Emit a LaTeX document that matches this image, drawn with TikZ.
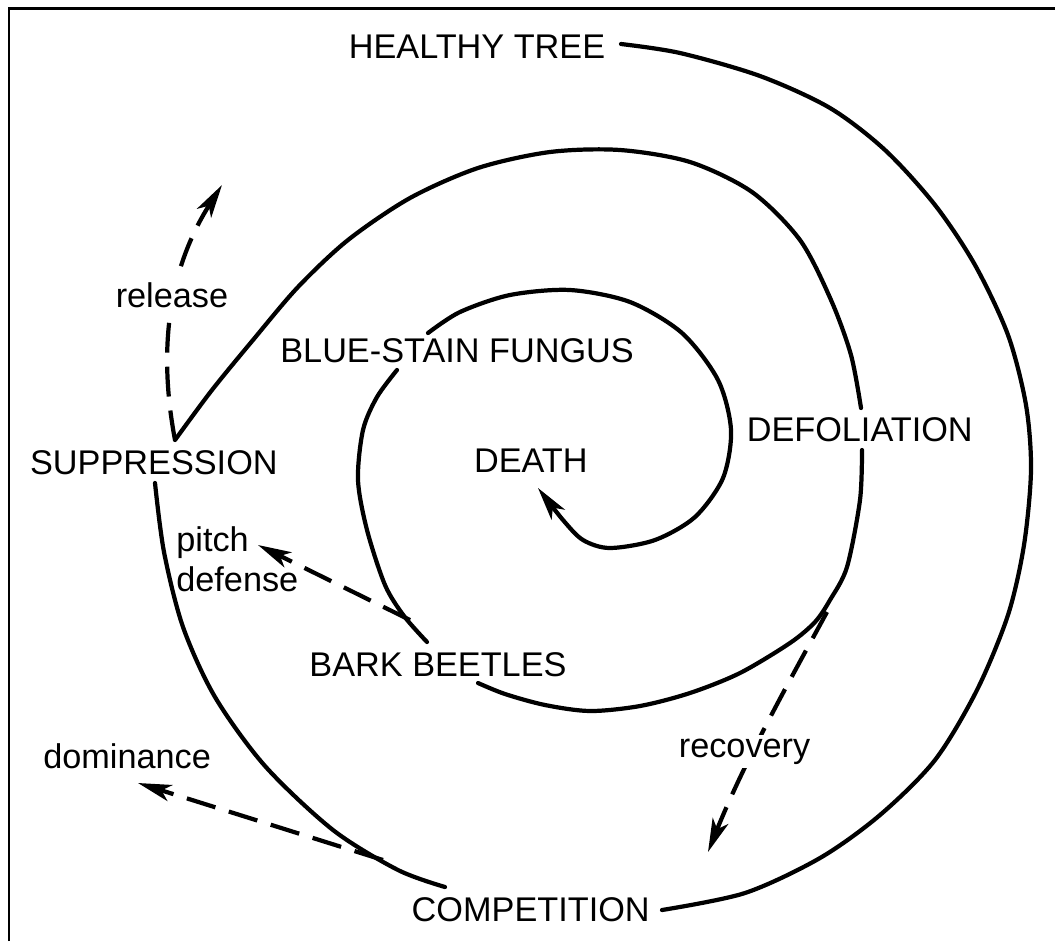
\documentclass[tikz,border=0pt]{standalone}
\usepackage{fontspec}
\setmainfont{Liberation Sans}
\usetikzlibrary{arrows.meta}
\begin{document}
\begin{tikzpicture}[x=0.02cm,y=-0.02cm,
  lbl/.style={inner sep=0pt, font=\fontsize{19.5}{22.7}\selectfont},
  blank/.style={lbl, fill=white, inner sep=2pt},
  spiral/.style={line width=2.4pt, line cap=round, line join=round},
  tipstyle/.style={-{Stealth[length=19pt,width=9.5pt,inset=5pt]}},
  dasharrow/.style={line width=2.4pt, dash pattern=on 17pt off 8pt, tipstyle},
  frame/.style={line width=1.7pt}]
\useasboundingbox (0,0) rectangle (1055,941);
\draw[frame] (9,941) -- (9,8) -- (1055,8);

% labels
\node[lbl] (ht) at (477,47) {HEALTHY TREE};
\node[lbl,anchor=west] (bsf) at (280,351) {BLUE-STAIN FUNGUS};
\node[lbl,anchor=east] (sup) at (278,463) {SUPPRESSION};
\node[lbl,anchor=east] (def) at (973,430) {DEFOLIATION};
\node[lbl,anchor=east] (death) at (588,461) {DEATH};
\node[lbl] (bb) at (438,665) {BARK BEETLES};
\node[lbl,anchor=east] (comp) at (650,910) {COMPETITION};
\node[lbl,anchor=base west] (dom) at (43,768) {dominance};
\node[lbl,anchor=north west,align=left] (pd) at (176,526) {pitch\\defense};

% spiral end points
\coordinate (a0) at (621,44);
\coordinate (a1) at (662,910);
\coordinate (b0) at (445,887);
\coordinate (b1) at (155,483);
\coordinate (c0) at (175,440);
\coordinate (c1) at (861,408);
\coordinate (d0) at (862,450);
\coordinate (d1) at (478,683);
\coordinate (e0) at (427,642);
\coordinate (e1) at (397,370);
\coordinate (f0) at (428,333);
\coordinate (f1) at (538,488);

% spiral
\draw[spiral] plot[smooth] coordinates {(a0) (680,53) (760,76) (830,108) (885,150) (935,205) (975,265) (1008,335) (1026,405) (1031,470) (1024,545) (1008,615) (977,690) (935,760) (880,815) (820,858) (745,893) (a1)};
\draw[spiral] plot[smooth] coordinates {(b0) (398,870) (333,830) (265,766) (215,697) (183,627) (164,552) (b1)};
\draw[spiral] plot[smooth] coordinates {(c0) (212,390) (253,340) (298,287) (348,240) (410,198) (478,168) (550,152) (620,150) (690,162) (752,192) (800,240) (831,300) (851,355) (c1)};
\draw[spiral] plot[smooth] coordinates {(d0) (860,500) (847,567) (830,600) (815,622) (790,643) (740,673) (690,693) (640,706) (590,711) (545,705) (505,694) (d1)};
\draw[spiral] plot[smooth] coordinates {(e0) (404,616) (385,585) (367,530) (358,480) (363,430) (377,397) (e1)};
\draw[spiral,tipstyle] plot[smooth] coordinates {(f0) (460,312) (510,295) (570,290) (630,302) (682,333) (718,380) (731,430) (723,478) (695,517) (655,540) (610,548) (583,540) (563,520) (f1)};

% dashed arrows
\coordinate (relTip) at (222,185);
\coordinate (pdTip) at (258,545);
\coordinate (pdBase) at (410,620);
\coordinate (domBase) at (383,860);
\coordinate (domTip) at (138,783);
\coordinate (recBase) at (827,612);
\coordinate (recTip) at (708,852);
\draw[dasharrow] (c0) .. controls (158,350) and (168,270) .. (relTip);
\draw[dasharrow] (pdBase) -- (pdTip);
\draw[dasharrow] (domBase) -- (domTip);
\draw[dasharrow] (recBase) .. controls (790,680) and (745,760) .. (recTip);

\node[blank,anchor=base east] (rel) at (232,307) {release};
\node[blank,anchor=base west] (rec) at (675,757) {recovery};
\end{tikzpicture}
\end{document}
